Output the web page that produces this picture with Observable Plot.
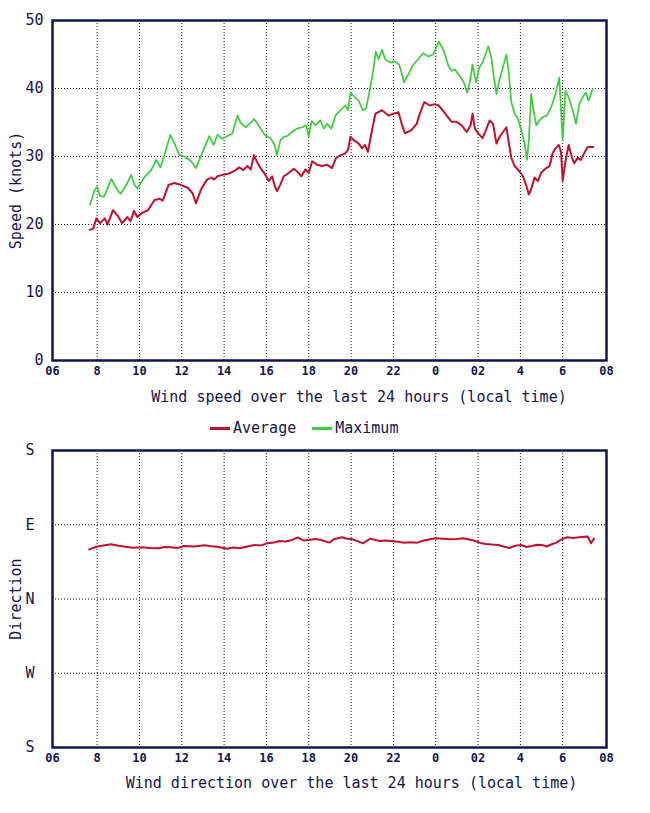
<!DOCTYPE html>
<html>
<head>
<meta charset="utf-8">
<script src="https://cdn.jsdelivr.net/npm/d3@7"></script>
<script src="https://cdn.jsdelivr.net/npm/@observablehq/plot@0.6"></script>
<style>
  html, body { margin: 0; padding: 0; background: #ffffff; }
  body { width: 650px; font-family: "DejaVu Sans Mono", monospace; color: #14144e; }
  svg { display: block; }
  .title { font-size: 15px; line-height: 18px; text-align: center; white-space: nowrap; }
  #title1 { margin-top: 8px; padding-left: 68px; }
  #title2 { margin-top: 7px; padding-left: 53px; }
  #legend { margin-top: 13px; padding-left: 210px; font-size: 15px; line-height: 18px; display: flex; align-items: center; white-space: nowrap; }
  .sw { display: inline-block; width: 20px; height: 3px; margin-right: 3px; }
</style>
</head>
<body>
<div id="chart1"></div>
<div id="title1" class="title">Wind speed over the last 24 hours (local time)</div>
<div id="legend">
  <span class="sw" style="background:#c0122e"></span><span>Average</span>
  <span class="sw" style="background:#3ccc3c; margin-left:16px"></span><span>Maximum</span>
</div>
<div id="chart2"></div>
<div id="title2" class="title">Wind direction over the last 24 hours (local time)</div>
<script>
// ---- axis definitions (hours counted from midnight of first day) ----
const xStart = 5.89;
const xEnd = 32.07;
const xTicks = [5.89, 8, 10, 12, 14, 16, 18, 20, 22, 24, 26, 28, 30, 32.07];
const xTickLabels = ["06", "8", "10", "12", "14", "16", "18", "20", "22", "0", "02", "4", "6", "08"];
const speedTicks = [0, 10, 20, 30, 40, 50];
const dirTicks = [-180, -90, 0, 90, 180];
const dirTickLabels = ["S", "W", "N", "E", "S"];

// ---- Average wind speed (knots) ----
const avgHours = [7.66, 7.81, 7.97, 8.13, 8.36, 8.49, 8.75, 8.99, 9.18, 9.43, 9.58, 9.74, 9.9, 10.12, 10.4, 10.71, 10.95, 11.1, 11.37, 11.65, 11.97, 12.28, 12.51, 12.67, 12.9, 13.19, 13.41, 13.53, 13.69, 13.92, 14.24, 14.55, 14.71, 14.91, 15.1, 15.26, 15.41, 15.57, 15.72, 15.95, 16.11, 16.27, 16.39, 16.5, 16.66, 16.82, 17.06, 17.29, 17.45, 17.65, 17.84, 18.0, 18.16, 18.39, 18.63, 18.87, 19.1, 19.29, 19.5, 19.7, 19.86, 19.97, 20.13, 20.36, 20.52, 20.65, 20.8, 20.99, 21.15, 21.46, 21.78, 22.0, 22.24, 22.39, 22.55, 22.86, 23.1, 23.25, 23.46, 23.72, 23.96, 24.13, 24.28, 24.52, 24.75, 24.99, 25.22, 25.46, 25.65, 25.74, 25.85, 26.01, 26.21, 26.4, 26.55, 26.71, 26.87, 27.02, 27.18, 27.34, 27.46, 27.57, 27.73, 27.96, 28.12, 28.28, 28.4, 28.51, 28.67, 28.83, 28.98, 29.22, 29.38, 29.53, 29.66, 29.81, 29.92, 30.0, 30.13, 30.28, 30.44, 30.55, 30.71, 30.86, 31.02, 31.18, 31.44];
const avgSpeed = [19.2, 19.4, 20.9, 20.2, 20.9, 20.0, 22.1, 21.2, 20.2, 21.1, 20.5, 22.0, 21.1, 21.7, 22.1, 23.6, 23.8, 23.5, 25.8, 26.1, 25.8, 25.4, 24.6, 23.1, 25.1, 26.6, 26.9, 26.6, 27.1, 27.3, 27.5, 28.0, 28.4, 28.0, 28.6, 28.1, 30.2, 29.1, 28.3, 27.3, 26.4, 27.1, 25.7, 24.9, 25.9, 27.1, 27.6, 28.2, 27.8, 27.1, 28.1, 27.6, 29.3, 28.8, 28.6, 28.8, 28.3, 29.8, 30.2, 30.4, 31.0, 32.9, 32.4, 31.9, 31.2, 31.7, 30.7, 33.9, 36.3, 36.8, 36.0, 36.3, 36.5, 34.8, 33.4, 33.9, 34.8, 36.3, 38.0, 37.5, 37.7, 37.5, 37.0, 36.0, 35.1, 35.1, 34.6, 33.6, 34.6, 36.3, 34.1, 33.4, 32.7, 34.1, 35.3, 34.8, 31.9, 32.9, 33.6, 34.3, 31.9, 29.8, 28.6, 27.8, 27.1, 25.7, 24.4, 25.2, 26.9, 26.4, 27.6, 28.3, 28.6, 30.5, 31.2, 31.7, 30.7, 26.4, 29.3, 31.7, 29.8, 29.0, 29.8, 29.5, 30.5, 31.4, 31.4];

// ---- Maximum wind speed (knots) ----
const maxHours = [7.66, 7.89, 8.0, 8.13, 8.33, 8.67, 8.91, 9.11, 9.38, 9.61, 9.77, 9.9, 10.24, 10.55, 10.79, 10.99, 11.18, 11.46, 11.68, 11.89, 12.12, 12.44, 12.67, 12.87, 13.06, 13.3, 13.5, 13.69, 13.92, 14.16, 14.39, 14.63, 14.79, 15.02, 15.26, 15.41, 15.57, 15.72, 15.95, 16.19, 16.39, 16.5, 16.66, 16.82, 16.98, 17.21, 17.45, 17.69, 17.88, 18.0, 18.13, 18.32, 18.55, 18.71, 18.87, 19.07, 19.26, 19.5, 19.73, 19.86, 19.97, 20.13, 20.36, 20.55, 20.7, 20.86, 21.02, 21.17, 21.3, 21.46, 21.61, 21.85, 22.08, 22.27, 22.39, 22.5, 22.71, 22.94, 23.17, 23.41, 23.65, 23.88, 24.15, 24.39, 24.6, 24.75, 24.91, 25.14, 25.33, 25.49, 25.61, 25.74, 25.9, 26.05, 26.24, 26.48, 26.63, 26.74, 26.87, 27.02, 27.21, 27.34, 27.46, 27.57, 27.73, 27.88, 28.04, 28.2, 28.31, 28.4, 28.51, 28.62, 28.75, 28.9, 29.06, 29.25, 29.45, 29.66, 29.84, 29.92, 30.0, 30.13, 30.28, 30.47, 30.63, 30.78, 30.94, 31.1, 31.22, 31.41];
const maxSpeed = [22.9, 25.1, 25.5, 24.2, 24.1, 26.7, 25.3, 24.5, 25.8, 27.3, 25.8, 25.3, 27.0, 28.0, 29.5, 28.4, 30.2, 33.2, 31.7, 30.2, 30.0, 29.3, 28.3, 29.8, 31.2, 33.0, 31.7, 33.2, 32.6, 33.0, 33.4, 36.0, 34.9, 34.3, 35.0, 35.5, 34.9, 34.1, 33.1, 32.7, 31.7, 30.2, 32.4, 32.9, 33.0, 33.6, 34.1, 34.3, 34.6, 32.9, 35.2, 34.6, 35.3, 34.1, 34.8, 34.1, 36.0, 36.8, 37.5, 36.8, 39.4, 38.9, 38.2, 36.8, 37.0, 39.4, 42.1, 45.4, 44.3, 45.7, 44.3, 43.8, 44.0, 43.5, 42.3, 40.9, 42.1, 43.5, 44.3, 45.2, 44.7, 45.0, 46.9, 45.5, 43.3, 42.6, 42.8, 41.8, 40.9, 39.4, 40.9, 43.5, 40.9, 43.0, 44.0, 46.2, 44.5, 41.8, 39.2, 41.4, 43.5, 45.0, 42.1, 38.0, 36.3, 35.6, 33.9, 31.9, 29.5, 32.4, 39.2, 36.8, 34.6, 35.3, 35.8, 36.0, 37.2, 39.2, 41.6, 36.8, 32.4, 39.7, 38.7, 36.8, 34.8, 37.7, 38.7, 39.4, 38.2, 39.9];

// ---- Average wind direction (degrees, N = 0, E = 90, S = ±180, W = -90) ----
const dirHours = [7.62, 7.96, 8.3, 8.65, 9.0, 9.34, 9.7, 10.13, 10.5, 10.91, 11.2, 11.5, 11.8, 12.09, 12.6, 13.08, 13.4, 13.67, 14.16, 14.45, 14.75, 15.1, 15.44, 15.75, 16.03, 16.35, 16.62, 16.9, 17.21, 17.5, 17.75, 18.0, 18.3, 18.59, 18.98, 19.18, 19.57, 19.8, 20.06, 20.3, 20.56, 20.91, 21.34, 21.6, 21.93, 22.2, 22.52, 22.8, 23.12, 23.4, 23.71, 24.0, 24.35, 24.69, 25.0, 25.28, 25.6, 25.87, 26.1, 26.36, 26.65, 26.95, 27.2, 27.48, 27.75, 28.03, 28.28, 28.53, 28.8, 29.02, 29.25, 29.51, 29.7, 29.9, 30.2, 30.5, 30.79, 31.0, 31.18, 31.34, 31.48];
const dirValues = [60.1, 63.4, 64.8, 66.3, 64.6, 63.4, 62.2, 62.6, 61.8, 61.4, 63.0, 62.6, 61.6, 64.2, 63.6, 65.1, 64.0, 63.4, 61.0, 62.4, 61.4, 63.6, 65.5, 65.0, 67.5, 68.4, 70.4, 69.6, 71.6, 74.5, 71.0, 71.6, 72.6, 71.6, 68.3, 72.4, 74.9, 73.0, 72.4, 70.2, 67.5, 73.2, 70.4, 71.0, 70.4, 69.4, 68.3, 68.8, 68.3, 70.6, 72.4, 73.6, 73.0, 72.4, 72.8, 73.6, 72.2, 70.4, 68.0, 66.7, 66.0, 65.5, 63.6, 61.8, 64.6, 65.5, 63.0, 64.2, 65.8, 65.5, 63.6, 66.7, 68.4, 71.6, 74.9, 74.0, 74.9, 75.4, 75.7, 67.5, 73.2];

// ---- styling ----
const navy = "#14144e";
const red = "#c0122e";
const green = "#3ccc3c";
const gridStyle = {stroke: "#111", strokeOpacity: 1, strokeWidth: 1, strokeDasharray: "1,2"};
const xLabel = new Map(xTicks.map((t, i) => [t, xTickLabels[i]]));
const dirLabel = new Map(dirTicks.map((t, i) => [t, dirTickLabels[i]]));

const avgData = avgHours.map((h, i) => ({h, v: avgSpeed[i]}));
const maxData = maxHours.map((h, i) => ({h, v: maxSpeed[i]}));
const dirData = dirHours.map((h, i) => ({h, v: dirValues[i]}));

const font = "DejaVu Sans Mono";

const chart1 = Plot.plot({
  width: 650,
  height: 380,
  marginTop: 20,
  marginBottom: 20,
  marginLeft: 52,
  marginRight: 44,
  style: {fontFamily: font, color: navy, background: "#ffffff", overflow: "visible"},
  x: {domain: [xStart, xEnd]},
  y: {domain: [0, 50]},
  marks: [
    Plot.gridX(xTicks.slice(1, -1), gridStyle),
    Plot.gridY(speedTicks.slice(1, -1), gridStyle),
    Plot.line(avgData, {x: "h", y: "v", stroke: red, strokeWidth: 2}),
    Plot.line(maxData, {x: "h", y: "v", stroke: green, strokeWidth: 1.7}),
    Plot.frame({stroke: navy, strokeWidth: 2.5}),
    Plot.axisX(xTicks, {tickSize: 0, tickPadding: 6, tickFormat: d => xLabel.get(d), fontSize: 12, fontWeight: "bold", label: null}),
    Plot.axisY(speedTicks, {tickSize: 0, tickPadding: 9, fontSize: 15, label: "Speed (knots)", labelAnchor: "center", labelArrow: "none", labelOffset: 42})
  ]
});
document.getElementById("chart1").appendChild(chart1);

const chart2 = Plot.plot({
  width: 650,
  height: 330,
  marginTop: 13,
  marginBottom: 20,
  marginLeft: 52,
  marginRight: 44,
  style: {fontFamily: font, color: navy, background: "#ffffff", overflow: "visible"},
  x: {domain: [xStart, xEnd]},
  y: {domain: [-180, 180]},
  marks: [
    Plot.gridX(xTicks.slice(1, -1), gridStyle),
    Plot.gridY(dirTicks.slice(1, -1), gridStyle),
    Plot.line(dirData, {x: "h", y: "v", stroke: red, strokeWidth: 2}),
    Plot.frame({stroke: navy, strokeWidth: 2.5}),
    Plot.axisX(xTicks, {tickSize: 0, tickPadding: 6, tickFormat: d => xLabel.get(d), fontSize: 12, fontWeight: "bold", label: null}),
    Plot.axisY(dirTicks, {tickSize: 0, tickPadding: 18, tickFormat: d => dirLabel.get(d), fontSize: 15, label: "Direction", labelAnchor: "center", labelArrow: "none", labelOffset: 42})
  ]
});
document.getElementById("chart2").appendChild(chart2);
</script>
</body>
</html>
